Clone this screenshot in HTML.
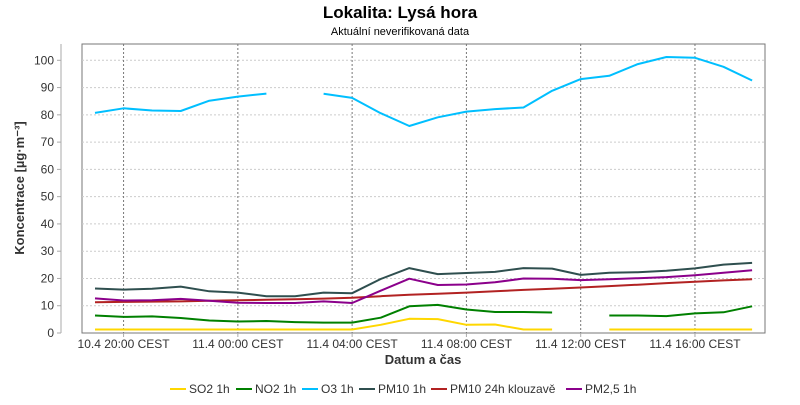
<!DOCTYPE html>
<html><head><meta charset="utf-8"><style>
body{margin:0;background:#fff;width:800px;height:400px;overflow:hidden}
svg{font-family:"Liberation Sans",sans-serif}
</style></head><body>
<svg id="s" width="800" height="400" xmlns="http://www.w3.org/2000/svg">
<text x="400" y="18" text-anchor="middle" font-size="17" font-weight="bold" fill="#000">Lokalita: Lysá hora</text>
<text x="400" y="35" text-anchor="middle" font-size="11" fill="#000">Aktuální neverifikovaná data</text>
<line x1="61" y1="44" x2="61" y2="333" stroke="#aaa"/>
<rect x="82" y="44" width="683" height="289" fill="none" stroke="#777"/>
<g id="grid"></g>
<g id="series" fill="none" stroke-width="2" stroke-linejoin="round"></g>
<text transform="translate(24,188) rotate(-90)" text-anchor="middle" font-size="13" font-weight="bold" fill="#333">Koncentrace [µg·m⁻³]</text>
<text x="423" y="364" text-anchor="middle" font-size="13" font-weight="bold" fill="#333">Datum a čas</text>
<g font-size="12" fill="#333">
<line x1="170" y1="389" x2="186" y2="389" stroke="#FFD700" stroke-width="2"/><text x="189" y="393">SO2 1h</text>
<line x1="236" y1="389" x2="252" y2="389" stroke="#008000" stroke-width="2"/><text x="255" y="393">NO2 1h</text>
<line x1="302" y1="389" x2="318" y2="389" stroke="#00BFFF" stroke-width="2"/><text x="321" y="393">O3 1h</text>
<line x1="359" y1="389" x2="375" y2="389" stroke="#2F4F4F" stroke-width="2"/><text x="378" y="393">PM10 1h</text>
<line x1="431" y1="389" x2="447" y2="389" stroke="#B22222" stroke-width="2"/><text x="450" y="393">PM10 24h klouzavě</text>
<line x1="566" y1="389" x2="582" y2="389" stroke="#8B008B" stroke-width="2"/><text x="585" y="393">PM2,5 1h</text>
</g>
</svg>
<script>
var NS="http://www.w3.org/2000/svg",g=document.getElementById("grid"),se=document.getElementById("series");
function el(p,t,a,txt){var e=document.createElementNS(NS,t);for(var k in a)e.setAttribute(k,a[k]);if(txt)e.textContent=txt;p.appendChild(e);return e;}
function Y(v){return 333-v*2.727;}
function X(i){return 95+28.57*i;}
for(var v=0;v<=100;v+=10){var y=Y(v);if(v>0)el(g,"line",{x1:82,x2:765,y1:y,y2:y,stroke:"#ccc","stroke-dasharray":"2,2"});
el(g,"line",{x1:57,x2:61,y1:y,y2:y,stroke:"#aaa"});el(g,"text",{x:54,y:y+4,"text-anchor":"end","font-size":"12",fill:"#333"},String(v));}
var labs=["10.4 20:00 CEST","11.4 00:00 CEST","11.4 04:00 CEST","11.4 08:00 CEST","11.4 12:00 CEST","11.4 16:00 CEST"];
for(var k=0;k<6;k++){var x=X(1+4*k);el(g,"line",{x1:x,x2:x,y1:44,y2:333,stroke:"#777","stroke-dasharray":"2,2"});
el(g,"line",{x1:x,x2:x,y1:333,y2:337,stroke:"#aaa"});el(g,"text",{x:x,y:348,"text-anchor":"middle","font-size":"12",fill:"#333"},labs[k]);}
var N=null;
var data=[
["#B22222",[11.3,11.4,11.5,11.6,11.8,12.0,12.2,12.4,12.6,12.9,13.5,14.0,14.4,14.8,15.3,15.8,16.2,16.7,17.2,17.7,18.3,18.8,19.3,19.7]],
["#FFD700",[1.3,1.3,1.3,1.3,1.3,1.3,1.3,1.3,1.3,1.3,3,5.2,5.1,3,3.1,1.3,1.3,N,1.3,1.3,1.3,1.3,1.3,1.3]],
["#008000",[6.4,5.9,6.1,5.5,4.6,4.2,4.4,4.0,3.8,3.8,5.6,9.8,10.3,8.6,7.7,7.7,7.5,N,6.4,6.4,6.2,7.2,7.6,9.8]],
["#2F4F4F",[16.3,15.9,16.2,17.0,15.3,14.8,13.5,13.5,14.8,14.6,19.8,23.8,21.6,22.0,22.4,23.8,23.6,21.3,22.1,22.3,22.8,23.7,25.1,25.7]],
["#8B008B",[12.7,11.9,12.0,12.5,11.8,11.1,11.0,11.0,11.6,11.0,15.5,19.9,17.6,17.8,18.6,20.0,19.9,19.4,19.7,20.1,20.5,21.2,22.1,23.0]],
["#00BFFF",[80.7,82.4,81.6,81.4,85.2,86.7,87.8,N,87.7,86.2,80.6,75.9,79.1,81.2,82.1,82.7,88.8,93.1,94.3,98.6,101.2,100.9,97.6,92.6]]];
data.forEach(function(s){var pts=[];function flush(){if(pts.length>1)el(se,"polyline",{points:pts.join(" "),stroke:s[0]});pts=[];}
s[1].forEach(function(v,i){if(v===null)flush();else pts.push(X(i).toFixed(1)+","+Y(v).toFixed(1));});flush();});
</script>
</body></html>
